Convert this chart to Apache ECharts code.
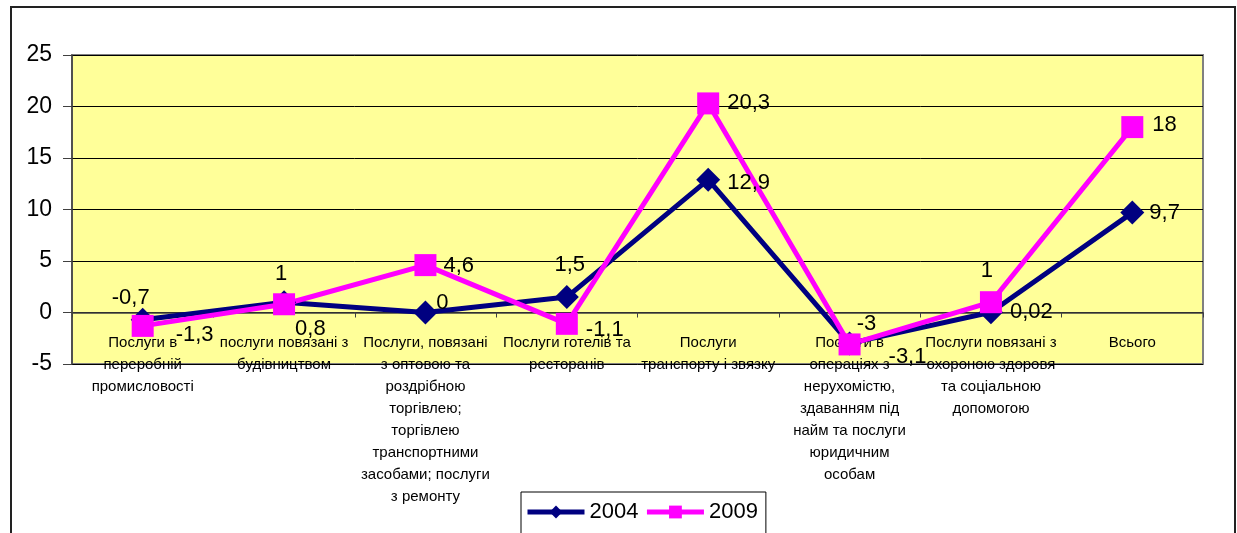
<!DOCTYPE html>
<html>
<head>
<meta charset="utf-8">
<script src="https://cdn.jsdelivr.net/npm/echarts@6/dist/echarts.min.js"></script>
<style>
  html, body { margin: 0; padding: 0; background: #fff; }
  #chart { width: 1237px; height: 533px; }
  #frame { position: absolute; left: 10px; top: 6px; width: 1222px; height: 560px; border: 2px solid #222; pointer-events: none; }
</style>
</head>
<body>
<div id="chart"></div>
<div id="frame"></div>
<script>
const categories = [
  'Послуги в\nпереробній\nпромисловості',
  'послуги повязані з\nбудівництвом',
  'Послуги, повязані\nз оптовою та\nроздрібною\nторгівлею;\nторгівлею\nтранспортними\nзасобами; послуги\nз ремонту',
  'Послуги готелів та\nресторанів',
  'Послуги\nтранспорту і звязку',
  'Послуги в\nопераціях з\nнерухомістю,\nздаванням під\nнайм та послуги\nюридичним\nособам',
  'Послуги повязані з\nохороною здоровя\nта соціальною\nдопомогою',
  'Всього'
]
const values2004 = [-0.7, 1, 0, 1.5, 12.9, -3, 0.02, 9.7]
const values2009 = [-1.3, 0.8, 4.6, -1.1, 20.3, -3.1, 1, 18]

// where each data label sits (label placement only)
const labels2004 = [
  ['top', -12, 6], ['top', -3, 0], ['top', 17, 18], ['top', 3, -4],
  ['right', 2, 3], ['top', 17, 9], ['right', 2, 0], ['right', 0, 0]
]
const labels2009 = [
  ['right', 17, 9], ['right', -5, 25], ['right', 2, 1], ['right', 3, 6],
  ['right', 3, 0], ['right', 23, 13], ['top', -4, -4], ['right', 4, -2]
]

const FONT = '"Liberation Sans", Arial, sans-serif'

function withLabels(values, placement) {
  return values.map((v, i) => ({
    value: v,
    label: { position: placement[i][0], offset: [placement[i][1], placement[i][2]] }
  }))
}

const chart = echarts.init(document.getElementById('chart'))
chart.setOption({
  animation: false,
  textStyle: { fontFamily: FONT },
  grid: {
    left: 72,
    right: 34,
    top: 55,
    bottom: 169,
    outerBoundsMode: 'none',
    containLabel: false,
    show: true,
    backgroundColor: '#ffff99',
    borderColor: '#808080',
    borderWidth: 2
  },
  legend: {
    left: 521,
    top: 492,
    padding: [9, 8, 30, 4],
    itemGap: 6,
    itemWidth: 57,
    itemHeight: 16,
    borderColor: '#000',
    borderWidth: 1,
    backgroundColor: '#fff',
    lineStyle: { width: 5 },
    textStyle: { fontSize: 22, color: '#000', fontFamily: FONT },
    data: ['2004', '2009']
  },
  xAxis: {
    type: 'category',
    data: categories,
    boundaryGap: true,
    axisLine: { onZero: true, lineStyle: { color: '#404040', width: 1.5 } },
    axisTick: { show: true, interval: 0, length: 5, lineStyle: { color: '#404040' } },
    axisLabel: {
      interval: 0,
      fontSize: 15,
      lineHeight: 22,
      margin: -32,
      color: '#000',
      fontFamily: FONT
    },
    splitLine: { show: false }
  },
  yAxis: {
    type: 'value',
    min: -5,
    max: 25,
    interval: 5,
    axisLine: { show: true, lineStyle: { color: '#404040', width: 1.5 } },
    axisTick: { show: true, length: 9, lineStyle: { color: '#404040' } },
    axisLabel: { fontSize: 23, margin: 20, color: '#000', fontFamily: FONT },
    splitLine: { lineStyle: { color: '#000', width: 1 } }
  },
  series: [
    {
      name: '2004',
      type: 'line',
      data: withLabels(values2004, labels2004),
      color: '#000080',
      symbol: 'diamond',
      symbolSize: 24,
      lineStyle: { width: 5, color: '#000080' },
      itemStyle: { color: '#000080' },
      label: {
        show: true,
        fontSize: 22,
        color: '#000',
        fontFamily: FONT,
        distance: 5,
        formatter: p => String(p.value).replace('.', ',')
      }
    },
    {
      name: '2009',
      type: 'line',
      data: withLabels(values2009, labels2009),
      color: '#ff00ff',
      symbol: 'rect',
      symbolSize: 22,
      lineStyle: { width: 5, color: '#ff00ff' },
      itemStyle: { color: '#ff00ff' },
      label: {
        show: true,
        fontSize: 22,
        color: '#000',
        fontFamily: FONT,
        distance: 5,
        formatter: p => String(p.value).replace('.', ',')
      }
    }
  ]
})
</script>
</body>
</html>
